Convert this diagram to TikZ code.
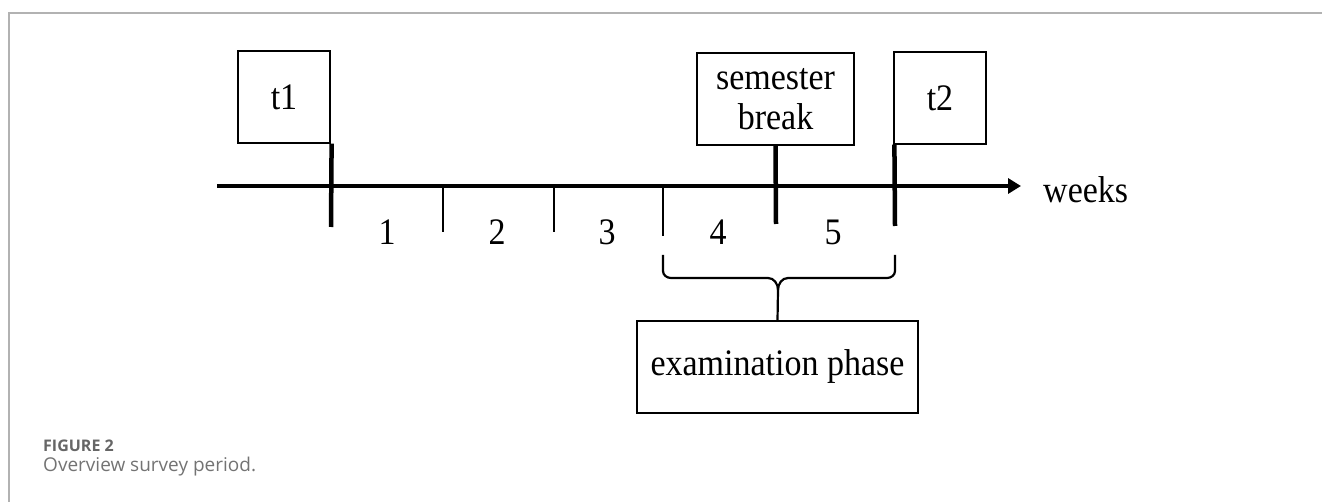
\documentclass[tikz,border=0pt]{standalone}
\usepackage{graphicx}
\usepackage{fontspec}
\setmainfont{Liberation Serif}
\newfontfamily\capfont{Open Sans}
\newcommand{\tl}[1]{\scalebox{1}[1.1]{#1}}
\usetikzlibrary{arrows.meta}
\tikzset{
  box/.style={draw, line width=1.2pt, inner sep=0pt, align=center,
    font=\fontsize{34}{40}\selectfont},
  lbl/.style={inner sep=0pt, font=\fontsize{34}{40}\selectfont},
  axisline/.style={line width=4pt, -{Triangle[length=13pt,width=15pt]}},
  bigtick/.style={line width=4.5pt},
  smalltick/.style={line width=2pt},
  bracepath/.style={line width=2.2pt},
  framel/.style={draw=black!30, line width=1.5pt},
}
\begin{document}
\begin{tikzpicture}[x=1pt,y=-1pt]
\useasboundingbox (0,0) rectangle (1322,502);
% frame
\draw[framel] (9,502) -- (9,13) -- (1322,13);
% boxes
\node[box, minimum width=92pt, minimum height=92pt] (t1) at (284,97) {\tl{t1}};
\node[box, minimum width=157pt, minimum height=92pt] (sem) at (775.5,99) {\tl{semester}\\\tl{break}};
\node[box, minimum width=92pt, minimum height=92pt] (t2) at (940,98) {\tl{t2}};
\node[box, minimum width=281pt, minimum height=92pt] (exam) at (777.5,367) {\tl{examination phase}};
% axis
\coordinate (axs) at (217,186);
\coordinate (axe) at (1021,186);
\draw[axisline] (axs) -- (axe);
\node[lbl, anchor=base west] (weeks) at (1043,203) {\tl{weeks}};
% big ticks
\coordinate (t1end) at (331,227);
\coordinate (semend) at (776,224);
\coordinate (t2end) at (895,226);
\draw[bigtick] ([xshift=1pt]t1.south east) -- (t1end);
\draw[bigtick] (sem.south) -- (semend);
\draw[bigtick] ([xshift=1pt]t2.south west) -- (t2end);
% small ticks
\coordinate (a1) at (443,186); \coordinate (b1) at (443,232);
\coordinate (a2) at (554,186); \coordinate (b2) at (554,232);
\coordinate (a3) at (663,186); \coordinate (b3) at (663,236);
\draw[smalltick] (a1) -- (b1);
\draw[smalltick] (a2) -- (b2);
\draw[smalltick] (a3) -- (b3);
% week numbers
\node[lbl, anchor=base] (w1) at (387,245) {\tl{1}};
\node[lbl, anchor=base] (w2) at (497,245) {\tl{2}};
\node[lbl, anchor=base] (w3) at (607,245) {\tl{3}};
\node[lbl, anchor=base] (w4) at (718,245) {\tl{4}};
\node[lbl, anchor=base] (w5) at (833,245) {\tl{5}};
% brace
\coordinate (bl) at (663,255);
\coordinate (br) at (895,255);
\coordinate (bm) at (778,290);
\draw[bracepath] (bl) -- (663,271) to[out=-90,in=180] (671,278) -- (768,278) to[out=0,in=90] (bm) -- (exam.north);
\draw[bracepath] (br) -- (895,271) to[out=-90,in=0] (887,278) -- (788,278) to[out=180,in=90] (bm);
% caption
\node[anchor=base west, inner sep=0pt, text=black!60] (fig) at (43,451) {\capfont\fontsize{16}{18}\selectfont\bfseries FIGURE 2};
\node[anchor=base west, inner sep=0pt, text=black!55] (cap) at (43,471) {\capfont\fontsize{19}{22}\selectfont Overview survey period.};
\end{tikzpicture}
\end{document}
